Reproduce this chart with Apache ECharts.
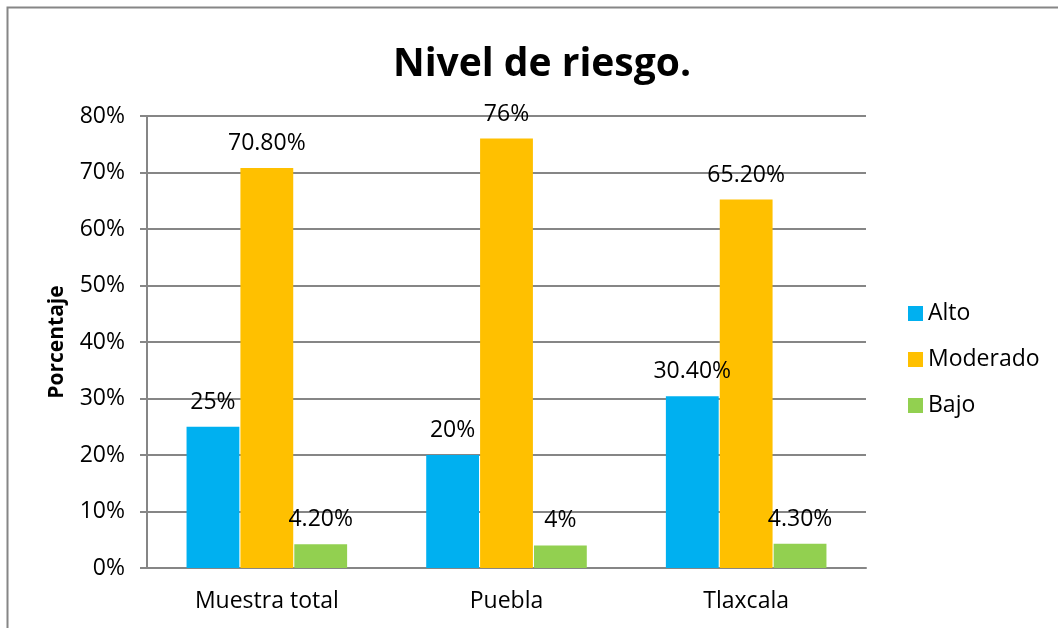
<!DOCTYPE html>
<html>
<head>
<meta charset="utf-8">
<script src="https://cdn.jsdelivr.net/npm/echarts@6/dist/echarts.min.js"></script>
<style>
html, body { margin: 0; padding: 0; background: #fff; }
#chart { width: 1058px; height: 628px; }
</style>
</head>
<body>
<div id="chart"></div>
<script>
// datos
const categories = ["Muestra total", "Puebla", "Tlaxcala"];
const alto = [25, 20, 30.4];
const moderado = [70.8, 76, 65.2];
const bajo = [4.2, 4, 4.3];
// etiquetas tal como aparecen sobre las barras
const altoLabels = ["25%", "20%", "30.40%"];
const moderadoLabels = ["70.80%", "76%", "65.20%"];
const bajoLabels = ["4.20%", "4%", "4.30%"];

const font = "'Open Sans', 'Liberation Sans', sans-serif";

function barSerie(name, data, labels, color) {
  return {
    name: name,
    type: "bar",
    data: data,
    itemStyle: { color: color },
    barGap: "2%",
    barCategoryGap: "33%",
    label: {
      show: true,
      position: "top",
      distance: 13,
      fontSize: 23,
      fontFamily: font,
      color: "#000",
      formatter: (p) => labels[p.dataIndex]
    }
  };
}

const chart = echarts.init(document.getElementById("chart"));
chart.setOption({
  animation: false,
  title: {
    text: "Nivel de riesgo.",
    left: 537,
    top: 40,
    textAlign: "center",
    textStyle: { fontSize: 39, fontWeight: "bold", fontFamily: font, color: "#000" }
  },
  legend: {
    orient: "vertical",
    left: 903,
    top: 297,
    itemWidth: 15,
    itemHeight: 15,
    itemGap: 23,
    icon: "rect",
    textStyle: { fontSize: 23, fontFamily: font, color: "#000" },
    data: ["Alto", "Moderado", "Bajo"]
  },
  grid: { left: 147, right: 192, top: 116, bottom: 60 },
  xAxis: {
    type: "category",
    data: categories,
    axisLine: { lineStyle: { color: "#868686", width: 2 } },
    axisTick: { show: false },
    axisLabel: { fontSize: 23, fontFamily: font, color: "#000", margin: 22 }
  },
  yAxis: {
    type: "value",
    min: 0,
    max: 80,
    interval: 10,
    name: "Porcentaje",
    nameLocation: "middle",
    nameGap: 79,
    nameTextStyle: { fontSize: 21, fontWeight: "bold", fontFamily: font, color: "#000" },
    axisLine: { show: true, lineStyle: { color: "#868686", width: 2 } },
    axisTick: { show: true, length: 7, lineStyle: { color: "#868686", width: 2 } },
    splitLine: { lineStyle: { color: "#868686", width: 2 } },
    axisLabel: { fontSize: 23, fontFamily: font, color: "#000", margin: 22, formatter: "{value}%" }
  },
  graphic: [{
    type: "rect",
    shape: { x: 7.5, y: 7.5, width: 1080, height: 650 },
    style: { fill: "none", stroke: "#868686", lineWidth: 2 },
    silent: true
  }],
  series: [
    barSerie("Alto", alto, altoLabels, "#00B0F0"),
    barSerie("Moderado", moderado, moderadoLabels, "#FFC000"),
    barSerie("Bajo", bajo, bajoLabels, "#92D050")
  ]
});
</script>
</body>
</html>
